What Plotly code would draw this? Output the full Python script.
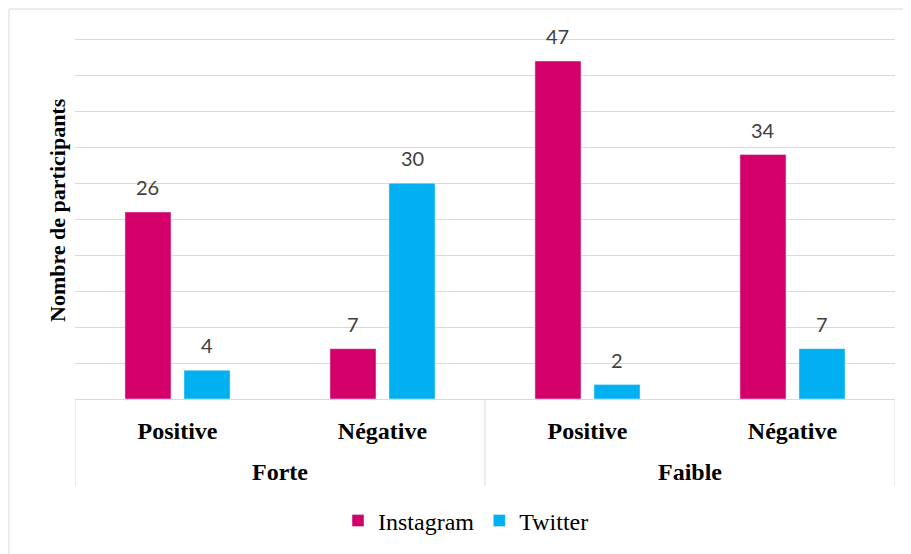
import plotly.graph_objects as go

sentiments = ["Positive", "Négative", "Positive", "Négative"]
groups = ["Forte", "Faible"]
instagram = [26, 7, 47, 34]
twitter = [4, 30, 2, 7]

C_INSTA = "#D20068"
C_TWIT = "#00B0F0"
GRID = "#D9D9D9"

# page body adds an 8px margin; design in screen pixels then shift
OFF = 8
W, H = 911, 554
plot_l, plot_r, plot_t, plot_b = 75, 895, 38, 399
L = plot_l - OFF
T = plot_t - OFF
R = W - (plot_r - OFF)
B = H - (plot_b - OFF)
pw, ph = W - L - R, H - T - B

def px_x(p):
    return (p - plot_l) / pw

def px_y(p):
    return (plot_b - p) / ph

xs = list(range(len(sentiments)))

fig = go.Figure()
fig.add_bar(name="Instagram", x=xs, y=instagram, marker_color=C_INSTA)
fig.add_bar(name="Twitter", x=xs, y=twitter, marker_color=C_TWIT)

off = 0.144
for i, v in enumerate(instagram):
    fig.add_annotation(x=i - off, y=v, xref="x", yref="y", text=str(v), showarrow=False,
                       yanchor="middle", yshift=25, font=dict(family="Lato", size=20, color="#404040"))
for i, v in enumerate(twitter):
    fig.add_annotation(x=i + off, y=v, xref="x", yref="y", text=str(v), showarrow=False,
                       yanchor="middle", yshift=25, font=dict(family="Lato", size=20, color="#404040"))

for gi, g in enumerate(groups):
    fig.add_annotation(x=gi * 2 + 0.5, y=px_y(472), xref="x", yref="paper", text=f"<b>{g}</b>",
                       showarrow=False, yanchor="middle",
                       font=dict(family="Liberation Serif", size=24, color="black"))

# y-axis title
fig.add_annotation(x=px_x(57), y=px_y(210), xref="paper", yref="paper",
                   text="<b>Nombre de participants</b>", textangle=-90, showarrow=False,
                   xanchor="center", yanchor="middle",
                   font=dict(family="Liberation Serif", size=22, color="black"))

for xv in [-0.5, 1.5, 3.5]:
    fig.add_shape(type="line", xref="x", yref="paper", x0=xv, x1=xv, y0=0, y1=px_y(486),
                  line=dict(color=GRID, width=1))

fig.add_shape(type="rect", xref="paper", yref="paper", x0=px_x(9), x1=1.1, y0=px_y(9), y1=-0.6,
              line=dict(color=GRID, width=1), fillcolor="rgba(0,0,0,0)", layer="below")

fig.update_layout(
    width=W, height=H,
    margin=dict(l=L, r=R, t=T, b=B, autoexpand=False),
    paper_bgcolor="white", plot_bgcolor="white",
    barmode="group", bargap=0.424, bargroupgap=0.22,
    showlegend=True,
    legend=dict(orientation="h", x=px_x(466), xanchor="center", y=px_y(521), yanchor="middle",
                font=dict(family="Liberation Serif", size=24, color="black"),
                itemwidth=30, traceorder="normal"),
    xaxis=dict(range=[-0.5, 3.5], tickvals=xs, ticktext=[f"<b>{s}</b>" for s in sentiments],
               tickfont=dict(family="Liberation Serif", size=24, color="black"),
               showline=True, linecolor=GRID, linewidth=1, showgrid=False, ticks="",
               ticklabelstandoff=10, zeroline=False),
    yaxis=dict(range=[0, 50.2], dtick=5, showgrid=True, gridcolor=GRID, gridwidth=1,
               showticklabels=False, zeroline=False, ticks=""),
)

fig.write_html("out.html")
